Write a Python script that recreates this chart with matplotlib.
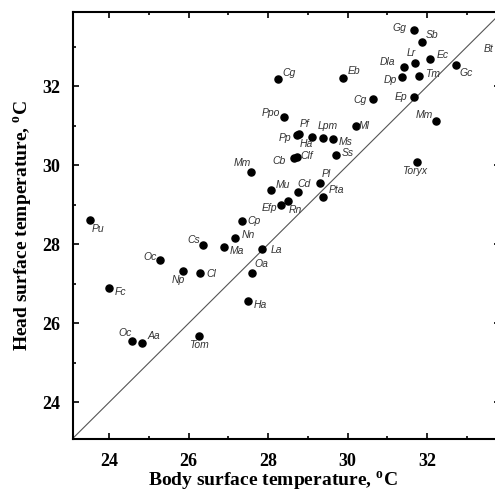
import matplotlib
matplotlib.use("Agg")
import matplotlib.pyplot as plt
from matplotlib.ticker import MultipleLocator

# Especies y temperaturas superficiales (cuerpo, cabeza), en grados C
especies = ["Gg", "Sb", "Lr", "Ec", "Dla", "Dp", "Tm", "Gc", "Bt", "Eb",
            "Cg", "Cg", "Ep", "Mm", "Ml", "Ppo", "Pf", "Pp", "Ha", "Lpm",
            "Ms", "Ss", "Cb", "Clf", "Mm", "Toryx", "Pl", "Pta", "Mu", "Cd",
            "Efp", "Rn", "Cp", "Nn", "Ma", "La", "Pu", "Cs", "Oc", "Np",
            "Cl", "Oa", "Fc", "Ha", "Oc", "Aa", "Tom"]
cuerpo = [31.67, 31.88, 31.69, 32.08, 31.41, 31.37, 31.79, 32.73, 33.95, 29.87,
          28.25, 30.63, 31.67, 32.21, 30.21, 28.40, 28.78, 28.72, 29.10, 29.38,
          29.62, 29.70, 28.66, 28.72, 27.56, 31.73, 29.30, 29.37, 28.07, 28.75,
          28.31, 28.49, 27.33, 27.16, 26.88, 27.85, 23.51, 26.37, 25.28, 25.85,
          26.29, 27.60, 24.00, 27.48, 24.58, 24.82, 26.25]
cabeza = [33.41, 33.11, 32.58, 32.68, 32.49, 32.23, 32.27, 32.54, 32.95, 32.21,
          32.18, 31.67, 31.73, 31.13, 30.98, 31.21, 30.80, 30.77, 30.72, 30.68,
          30.67, 30.26, 30.19, 30.21, 29.82, 30.07, 29.55, 29.19, 29.37, 29.31,
          29.00, 29.09, 28.60, 28.16, 27.94, 27.87, 28.62, 27.98, 27.61, 27.31,
          27.27, 27.28, 26.89, 26.57, 25.54, 25.49, 25.67]

# desplazamiento de cada etiqueta (pixeles) respecto a su punto
desplaz = [(-15, 2), (10, 7), (-4, 10), (12, 4), (-16, 5), (-12, -3), (14, 2),
           (10, -8), (-16, 0), (11, 7), (11, 6), (-13, -1), (-13, 0), (-11, 6),
           (8, 0), (-13, 4), (5, 10), (-12, -3), (-6, -7), (5, 12), (13, -3),
           (12, 2), (-15, -3), (10, 1), (-8, 9), (-2, -9), (6, 9), (14, 7),
           (12, 5), (6, 8), (-11, -3), (8, -9), (12, 0), (13, 3), (13, -4),
           (14, -1), (8, -9), (-10, 5), (-10, 3), (-4, -9), (11, -1), (9, 9),
           (11, -4), (13, -4), (-7, 8), (12, 7), (0, -9)]

plt.rcParams["mathtext.fontset"] = "custom"
plt.rcParams["mathtext.rm"] = "Liberation Serif:bold"
plt.rcParams["mathtext.bf"] = "Liberation Serif:bold"

fig = plt.figure(figsize=(4.95, 4.93), dpi=100)
ax = fig.add_axes([73 / 495, 54 / 493, 427 / 495, 426.7 / 493])

ax.plot([20, 36], [20, 36], color="#555555", lw=0.8, zorder=1)
ax.scatter(cuerpo, cabeza, s=26, color="black", zorder=3, clip_on=True)

for nombre, x, y, d in zip(especies, cuerpo, cabeza, desplaz):
    ax.annotate(nombre, (x, y), xytext=d, textcoords="offset pixels",
                ha="center", va="center", fontsize=7.5, style="italic",
                family="Liberation Sans", color="#333333",
                annotation_clip=False)

ax.set_xlim(23.09, 33.83)
ax.set_ylim(23.07, 33.87)
ax.xaxis.set_major_locator(MultipleLocator(2))
ax.xaxis.set_minor_locator(MultipleLocator(1))
ax.yaxis.set_major_locator(MultipleLocator(2))
ax.yaxis.set_minor_locator(MultipleLocator(1))
ax.tick_params(which="both", direction="in", top=True, right=True, width=1.2)
ax.tick_params(which="major", length=4.5)
ax.tick_params(which="minor", length=2.5)
ax.tick_params(axis="x", which="major", pad=10)
ax.tick_params(axis="y", which="major", pad=9)
for lab in ax.get_xticklabels() + ax.get_yticklabels():
    lab.set_fontfamily("Liberation Serif")
    lab.set_fontweight("bold")
    lab.set_fontsize(13)
for sp in ax.spines.values():
    sp.set_linewidth(1.5)

ax.set_xlabel(r"Body surface temperature, $^{\rm o}$C", family="Liberation Serif",
              fontweight="bold", fontsize=14)
ax.set_ylabel(r"Head surface temperature, $^{\rm o}$C", family="Liberation Serif",
              fontweight="bold", fontsize=14)
ax.xaxis.set_label_coords((273 - 73) / 427, -0.072)
ax.yaxis.set_label_coords(-0.088, 0.5)

fig.savefig("out.png", dpi=100)
